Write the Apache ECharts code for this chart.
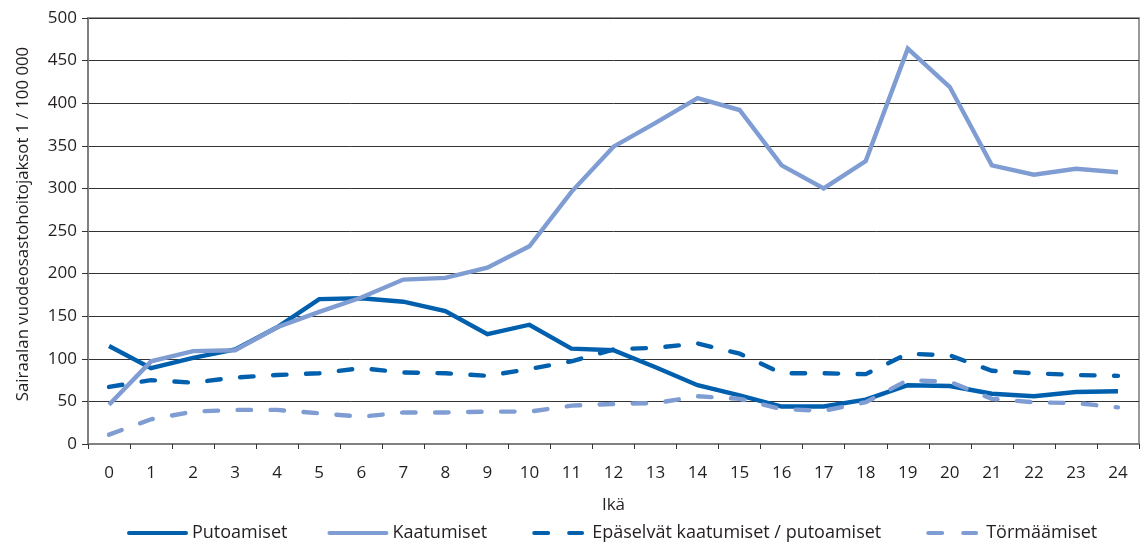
<!DOCTYPE html>
<html>
<head>
<meta charset="utf-8">
<script src="https://cdn.jsdelivr.net/npm/echarts@6/dist/echarts.min.js"></script>
<style>
html,body{margin:0;padding:0;background:#fff;}
#chart{width:1145px;height:543px;}
</style>
</head>
<body>
<div id="chart"></div>
<script>
const categories = ['0','1','2','3','4','5','6','7','8','9','10','11','12','13','14','15','16','17','18','19','20','21','22','23','24'];
const putoamiset = [115, 89, 101, 111, 137, 170, 171, 167, 156, 129, 140, 112, 110, 90, 69, 57, 44, 44, 52, 69, 68, 59, 56, 61, 62];
const kaatumiset = [46, 97, 109, 110, 137, 155, 172, 193, 195, 207, 232, 296, 349, 377, 406, 392, 327, 300, 332, 464, 419, 327, 316, 323, 319];
const epaselvat = [67, 75, 72, 78, 81, 83, 89, 84, 83, 80, 88, 97, 111, 113, 118, 106, 83, 83, 82, 106, 104, 86, 83, 81, 80];
const tormaamiset = [11, 29, 38, 40, 40, 36, 32, 37, 37, 38, 38, 45, 47, 48, 56, 53, 41, 39, 49, 75, 73, 53, 49, 48, 43];
const seriesNames = ['Putoamiset', 'Kaatumiset', 'Epäselvät kaatumiset / putoamiset', 'Törmäämiset'];
const yTicks = { min: 0, max: 500, interval: 50 };

const DARK = '#0060ae';
const LIGHT = '#7f9dd3';
const FONT = 'Open Sans';
const TXT = '#231f20';

const SOLID_ICON = 'path://M2,0h57a2,2 0 0 1 0,4h-57a2,2 0 0 1 0,-4z';
const DASH_ICON = 'path://M7,0h14a2,2 0 0 1 0,4h-14a2,2 0 0 1 0,-4z M42,0h13a2,2 0 0 1 0,4h-13a2,2 0 0 1 0,-4z M0,0h0.01v0.01h-0.01z M61,4h0.01v0.01h-0.01z';

const chart = echarts.init(document.getElementById('chart'), null, { renderer: 'canvas' });

function line(name, data, color, dashed) {
  return {
    name: name,
    type: 'line',
    data: data,
    symbol: 'none',
    showSymbol: false,
    animation: false,
    lineStyle: {
      color: color,
      width: 4.4,
      type: dashed ? [13.5, 19.5] : 'solid',
      cap: dashed ? 'round' : 'butt',
      join: 'miter'
    },
    itemStyle: { color: color }
  };
}

chart.setOption({
  animation: false,
  textStyle: { fontFamily: FONT, color: TXT },
  grid: {
    left: 88, right: 6, top: 18, bottom: 99,
    show: true, borderColor: '#9a9a9a', borderWidth: 2,
    containLabel: false
  },
  legend: {
    data: [
      { name: seriesNames[0], icon: SOLID_ICON },
      { name: seriesNames[1], icon: SOLID_ICON },
      { name: seriesNames[2], icon: DASH_ICON },
      { name: seriesNames[3], icon: DASH_ICON }
    ],
    top: 519,
    left: 122,
    itemWidth: 61,
    itemHeight: 4,
    itemGap: 40,
    textStyle: { fontFamily: FONT, fontSize: 18, color: TXT, padding: [0, 0, 0, -1] }
  },
  xAxis: {
    type: 'category',
    data: categories,
    boundaryGap: true,
    name: 'Ikä',
    nameLocation: 'middle',
    nameGap: 53,
    nameTextStyle: { fontFamily: FONT, fontSize: 17, color: TXT },
    axisLine: { show: true, lineStyle: { color: '#808080', width: 2 } },
    axisTick: { show: true, alignWithLabel: false, length: 5, lineStyle: { color: '#333', width: 1 } },
    axisLabel: { fontFamily: FONT, fontSize: 17, color: TXT, margin: 21, interval: 0 },
    splitLine: { show: false }
  },
  yAxis: {
    type: 'value',
    min: yTicks.min, max: yTicks.max, interval: yTicks.interval,
    name: 'Sairaalan vuodeosastohoitojaksot 1 / 100 000',
    nameLocation: 'middle',
    nameRotate: 90,
    nameGap: 56,
    nameTextStyle: { fontFamily: FONT, fontSize: 16.8, color: TXT, padding: [0, 0, 0, 14] },
    axisLine: { show: true, lineStyle: { color: '#808080', width: 2 } },
    axisTick: { show: true, length: 6, lineStyle: { color: '#333', width: 1 } },
    axisLabel: { fontFamily: FONT, fontSize: 17, color: TXT, margin: 11 },
    splitLine: { show: true, lineStyle: { color: '#333', width: 1 } }
  },
  series: [
    line(seriesNames[0], putoamiset, DARK, false),
    line(seriesNames[1], kaatumiset, LIGHT, false),
    line(seriesNames[2], epaselvat, DARK, true),
    line(seriesNames[3], tormaamiset, LIGHT, true)
  ]
});
</script>
</body>
</html>
